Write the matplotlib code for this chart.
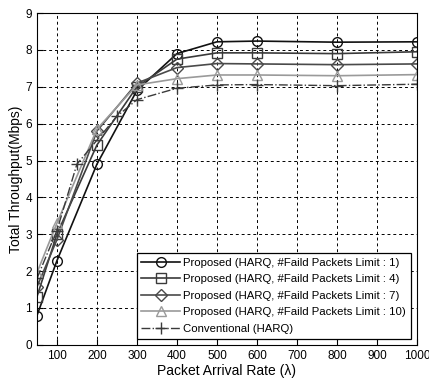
import matplotlib
matplotlib.use("Agg")
import matplotlib.pyplot as plt

plt.rcParams['font.family'] = ['Liberation Sans', 'DejaVu Sans']

# packet arrival rate
x = [50, 100, 200, 300, 400, 500, 600, 800, 1000]
x_conv = [50, 100, 150, 250, 300, 400, 500, 600, 800, 1000]

# total throughput (Mbps)
lim1 = [0.79, 2.28, 4.9, 6.9, 7.9, 8.22, 8.24, 8.21, 8.22]
lim4 = [1.3, 3.0, 5.42, 7.0, 7.75, 7.92, 7.92, 7.9, 7.95]
lim7 = [1.57, 2.85, 5.8, 7.1, 7.52, 7.63, 7.62, 7.6, 7.62]
lim10 = [1.95, 3.3, 5.85, 7.05, 7.22, 7.32, 7.32, 7.3, 7.33]
conv = [1.8, 3.1, 4.9, 6.2, 6.65, 6.96, 7.05, 7.06, 7.03, 7.07]

labels = ["Proposed (HARQ, #Faild Packets Limit : 1)",
          "Proposed (HARQ, #Faild Packets Limit : 4)",
          "Proposed (HARQ, #Faild Packets Limit : 7)",
          "Proposed (HARQ, #Faild Packets Limit : 10)",
          "Conventional (HARQ)"]

fig = plt.figure(figsize=(4.29, 3.84), dpi=100)
ax = fig.add_axes([0.086, 0.102, 0.886, 0.864])

ax.plot(x, lim1, color='#111111', marker='o', mfc='none', ms=7, lw=1.2, label=labels[0])
ax.plot(x, lim4, color='#3a3a3a', marker='s', mfc='none', ms=6.5, lw=1.2, label=labels[1])
ax.plot(x, lim7, color='#4a4a4a', marker='D', mfc='none', ms=6, lw=1.2, label=labels[2])
ax.plot(x, lim10, color='#9a9a9a', marker='^', mfc='none', ms=7.5, lw=1.2, label=labels[3])
ax.plot(x_conv, conv, color='#3a3a3a', marker='+', ms=9, lw=1.0, ls='-.', label=labels[4])

ax.set_xlim(50, 1000)
ax.set_ylim(0, 9)
ax.set_xticks(range(100, 1001, 100))
ax.set_yticks(range(0, 10))
ax.tick_params(direction='in', labelsize=8.5, length=4)
ax.grid(True, color='black', ls=(0, (3, 3)), lw=0.7)
ax.set_xlabel("Packet Arrival Rate (λ)", fontsize=10, labelpad=2)
ax.set_ylabel("Total Throughput(Mbps)", fontsize=10, labelpad=2)

leg = ax.legend(loc='lower right', fontsize=8.2, fancybox=False, framealpha=1,
                edgecolor='black', handlelength=3.4, borderaxespad=0.55,
                labelspacing=0.58, handletextpad=0.3, borderpad=0.4)
leg.get_frame().set_linewidth(0.9)

fig.savefig("out.png", dpi=100)
